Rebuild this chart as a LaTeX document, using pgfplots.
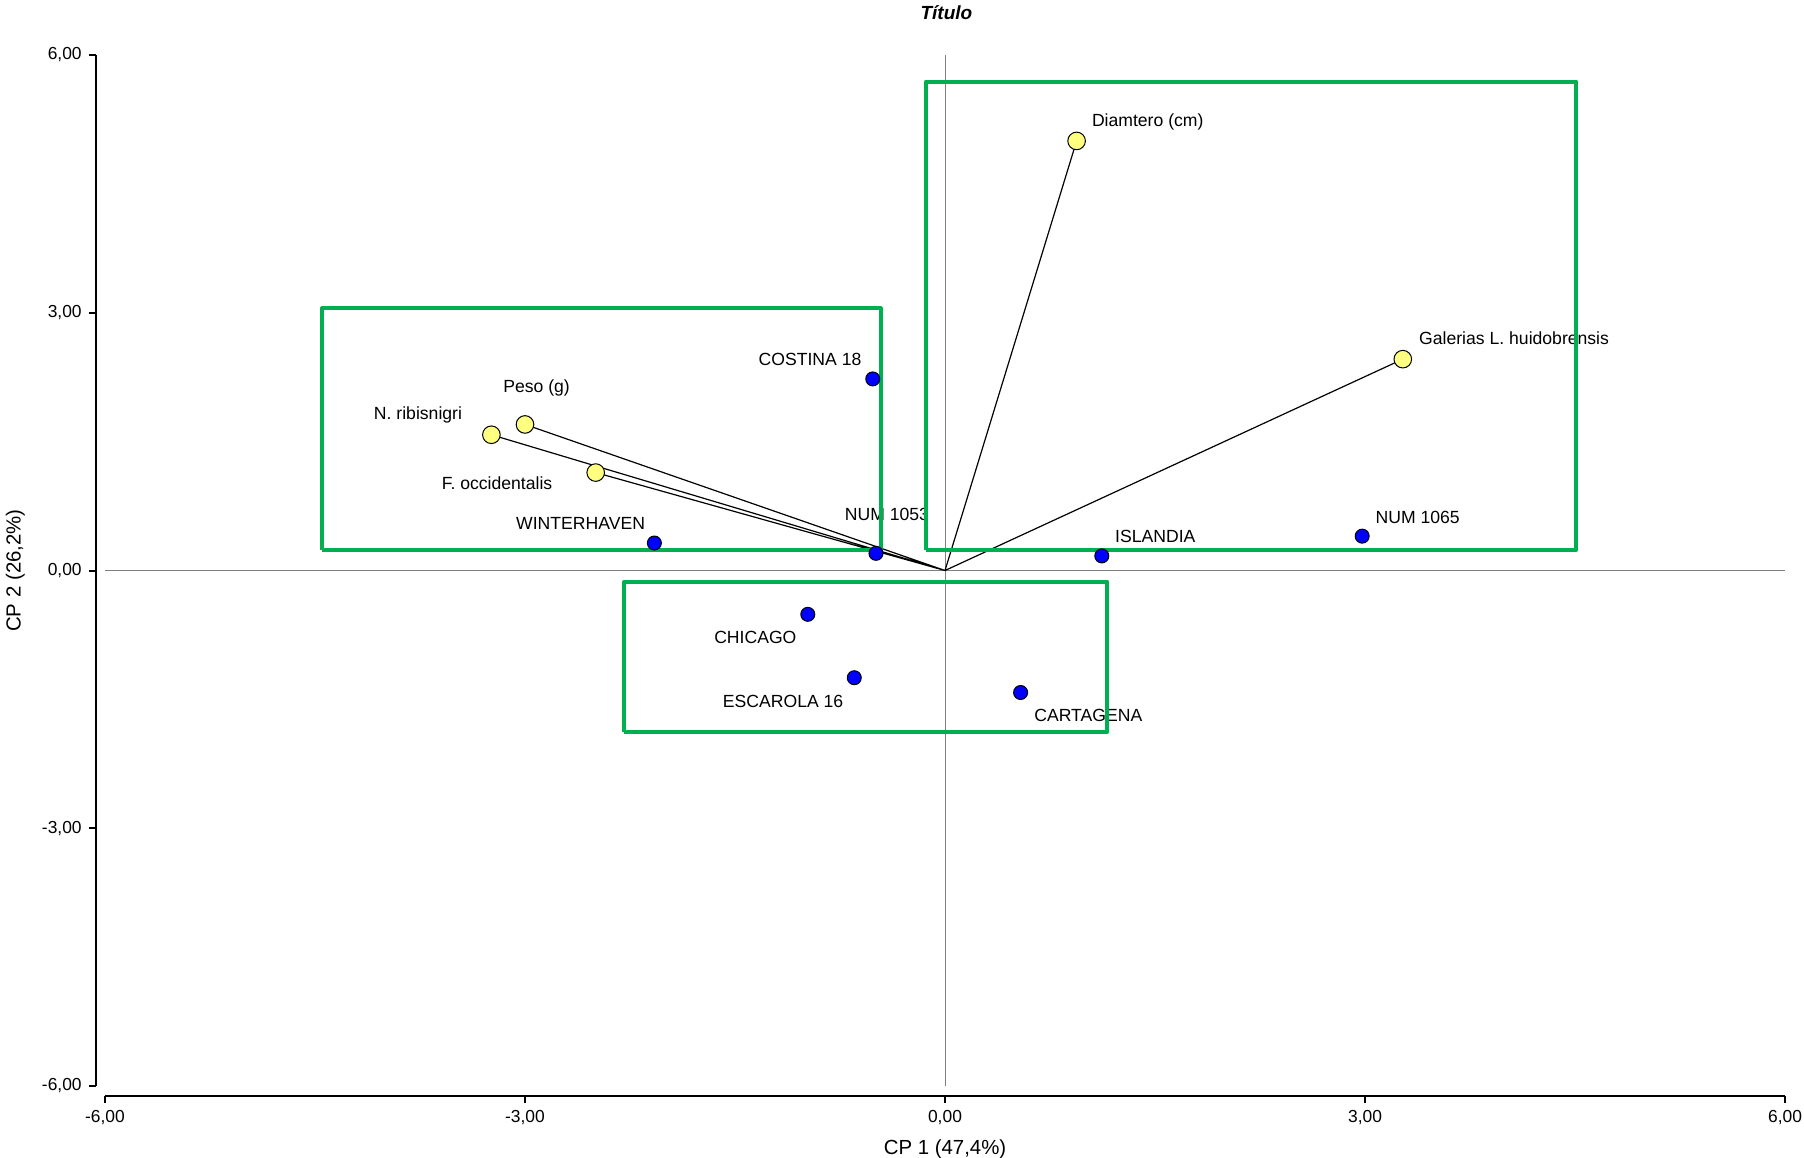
\documentclass[border=0pt]{standalone}
\usepackage{fontspec}
\setmainfont{Liberation Sans}
\usepackage{pgfplots}
\usepackage{pgfplotstable}
\pgfplotsset{compat=1.18}

\definecolor{boxgreen}{RGB}{0,176,80}
\definecolor{varyellow}{RGB}{255,255,128}
\definecolor{zerogray}{RGB}{128,128,128}

% variables (arrows from the origin)
\pgfplotstableread{
x y
0.94 5.00
3.27 2.46
-3.00 1.70
-3.24 1.58
-2.495 1.14
}\variables

% cultivars
\pgfplotstableread{
x y
-0.516 2.23
-0.493 0.20
-2.076 0.32
1.12 0.17
2.98 0.40
-0.98 -0.51
-0.648 -1.248
0.54 -1.42
}\cultivars

\begin{document}
\begin{tikzpicture}[font=\fontsize{8.8}{10.4}\selectfont,
  lab/.style={inner sep=0pt, text height=6.3pt, text depth=0pt}]
\begin{axis}[
  scale only axis, width=840pt, height=515.5pt,
  xmin=-6, xmax=6, ymin=-6, ymax=6,
  axis x line*=bottom, axis y line*=left,
  axis x line shift=5pt, axis y line shift=4.65pt,
  axis line style={-, line width=1pt, black},
  xtick={-6,-3,0,3,6}, ytick={-6,-3,0,3,6},
  xticklabels={{-6,00},{-3,00},{0,00},{3,00},{6,00}},
  yticklabels={{-6,00},{-3,00},{0,00},{3,00},{6,00}},
  ticklabel style={font=\fontsize{8.7}{10.4}\selectfont},
  tick align=outside, major tick length=3.5pt,
  tick style={line width=1pt, black},
  xlabel={CP 1 (47,4\%)}, ylabel={CP 2 (26,2\%)},
  label style={font=\fontsize{10.2}{12}\selectfont},
  xlabel style={at={(axis cs:0,-6.707)}, anchor=center, inner sep=0pt, text height=7.3pt, text depth=0pt},
  ylabel style={at={(axis cs:-6.655,0)}, anchor=center, inner sep=0pt, text height=7.3pt, text depth=0pt},
  clip=false,
  unbounded coords=jump,
]
% zero lines
\addplot[zerogray, line width=0.5pt] coordinates {(-6,0) (6,0)};
\addplot[zerogray, line width=0.5pt] coordinates {(0,-6) (0,6)};

% vectors
\addplot[black, line width=0.6pt] coordinates {
(0,0) (0.94,5.00) (nan,nan)
(0,0) (3.27,2.46) (nan,nan)
(0,0) (-3.00,1.70) (nan,nan)
(0,0) (-3.24,1.58) (nan,nan)
(0,0) (-2.495,1.14)
};

\addplot[only marks, mark=*, mark size=3.5pt,
  mark options={fill=blue, draw=black, line width=0.5pt}] table {\cultivars};
\addplot[only marks, mark=*, mark size=4.4pt,
  mark options={fill=varyellow, draw=black, line width=0.5pt}] table {\variables};

% title
\node[anchor=center, inner sep=0pt, text height=6.8pt, text depth=0pt,
  font=\fontsize{9.5}{11}\selectfont\bfseries\itshape] at (axis cs:0.01,6.49) {Título};

% labels
\node[lab, anchor=west, xshift=7.5pt, yshift=10.3pt] at (axis cs:0.94,5.00) {Diamtero (cm)};
\node[lab, anchor=west, xshift=8pt, yshift=10.5pt] at (axis cs:3.27,2.46) {Galerias L. huidobrensis};
\node[lab, anchor=center, xshift=5.8pt, yshift=19.3pt] at (axis cs:-3.00,1.70) {Peso (g)};
\node[lab, anchor=east, xshift=-14.5pt, yshift=10.8pt] at (axis cs:-3.24,1.58) {N. ribisnigri};
\node[lab, anchor=east, xshift=-21.5pt, yshift=-5.3pt] at (axis cs:-2.495,1.14) {F. occidentalis};
\node[lab, anchor=east, xshift=-5.5pt, yshift=9.9pt] at (axis cs:-0.516,2.23) {COSTINA 18};
\node[lab, anchor=center, xshift=5.5pt, yshift=19.5pt] at (axis cs:-0.493,0.20) {NUM 1053};
\node[lab, anchor=east, xshift=-4.5pt, yshift=10pt] at (axis cs:-2.076,0.32) {WINTERHAVEN};
\node[lab, anchor=west, xshift=6.5pt, yshift=10pt] at (axis cs:1.12,0.17) {ISLANDIA};
\node[lab, anchor=west, xshift=6.5pt, yshift=9.7pt] at (axis cs:2.98,0.40) {NUM 1065};
\node[lab, anchor=east, xshift=-5.5pt, yshift=-11.5pt] at (axis cs:-0.98,-0.51) {CHICAGO};
\node[lab, anchor=east, xshift=-5.3pt, yshift=-11.5pt] at (axis cs:-0.648,-1.248) {ESCAROLA 16};
\node[lab, anchor=west, xshift=6.7pt, yshift=-11.2pt] at (axis cs:0.54,-1.42) {CARTAGENA};

% groups
\addplot[boxgreen, line width=2pt, line join=round] coordinates {
(-4.45,0.24) (-0.46,0.24) (-0.46,3.05) (-4.45,3.05) (-4.45,0.24)};
\addplot[boxgreen, line width=2pt, line join=round] coordinates {
(-0.136,0.24) (4.51,0.24) (4.51,5.69) (-0.136,5.69) (-0.136,0.24)};
\addplot[boxgreen, line width=2pt, line join=round] coordinates {
(-2.29,-1.877) (1.16,-1.877) (1.16,-0.13) (-2.29,-0.13) (-2.29,-1.877)};

\coordinate (bbll) at (axis cs:-6.75,-6.8265);
\coordinate (bbur) at (axis cs:6.1357,6.6403);
\end{axis}
\pgfresetboundingbox
\path (bbll) rectangle (bbur);
\end{tikzpicture}
\end{document}
